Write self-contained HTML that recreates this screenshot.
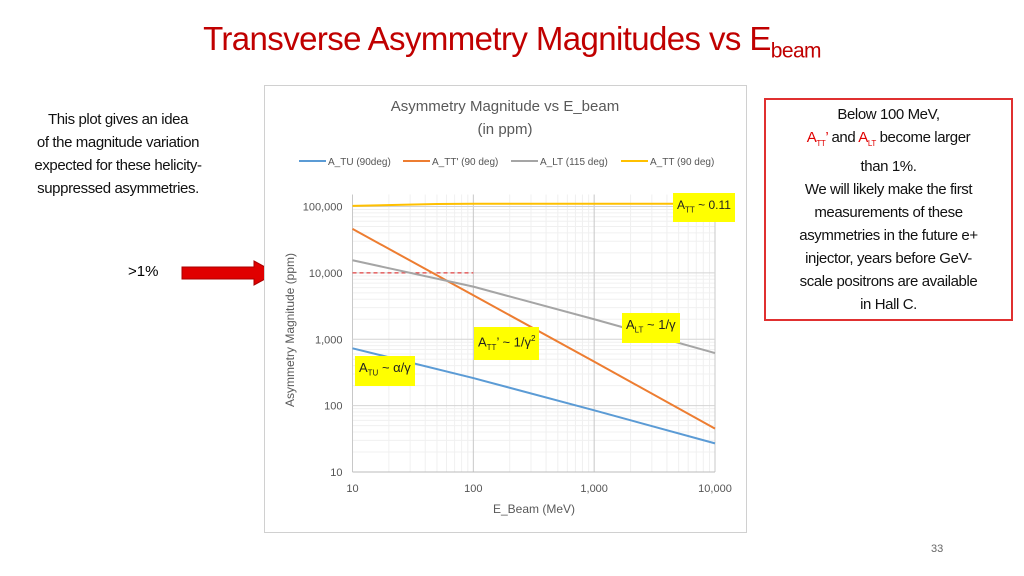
<!DOCTYPE html>
<html><head><meta charset="utf-8"><style>
body{margin:0;width:1024px;height:576px;background:#fff;font-family:"Liberation Sans",sans-serif;position:relative;overflow:hidden}
.abs{position:absolute}
.hl{background:#ffff00;position:absolute;font-size:12px;color:#222;padding:0 4px;line-height:24px}
sub{font-size:8px}
</style></head><body>
<div class="abs" style="left:0;width:1024px;top:20px;text-align:center;font-size:33px;color:#c00000;letter-spacing:-0.6px">Transverse Asymmetry Magnitudes vs E<sub style="font-size:21px">beam</sub></div>
<div class="abs" style="left:4px;top:108px;width:228px;text-align:center;font-size:15px;line-height:23px;color:#111;letter-spacing:-0.4px">This plot gives an idea<br>of the magnitude variation<br>expected for these helicity-<br>suppressed asymmetries.</div>
<div class="abs" style="left:128px;top:263px;font-size:15px">&gt;1%</div>
<svg class="abs" style="left:180px;top:259px" width="100" height="28"><polygon points="2,8 74,8 74,2 96,14 74,26 74,20 2,20" fill="#e00000" stroke="#a00" stroke-width="1"/></svg>
<div class="abs" style="left:764px;top:98px;width:245px;height:216px;border:2px solid #e03030;text-align:center;font-size:15px;line-height:23px;color:#111;padding-top:3px;letter-spacing:-0.4px">Below 100 MeV,<br><span style="color:#e00000">A<sub>TT</sub>’</span> and <span style="color:#e00000">A<sub>LT</sub></span> become larger<br>than 1%.<br>We will likely make the first<br>measurements of these<br>asymmetries in the future e+<br>injector, years before GeV-<br>scale positrons are available<br>in Hall C.</div>
<div class="abs" style="left:931px;top:543px;font-size:11px;color:#666">33</div>
<svg class="abs" id="chart" style="left:264px;top:85px" width="483" height="448"></svg>
<div class="hl" style="left:673px;top:193px">A<sub>TT</sub> ~ 0.11</div>
<div class="hl" style="left:622px;top:313px;font-size:13px">A<sub>LT</sub> ~ 1/γ</div>
<div class="hl" style="left:474px;top:327px;font-size:13px">A<sub>TT</sub>’ ~ 1/γ<sup style="font-size:8px">2</sup></div>
<div class="hl" style="left:355px;top:356px;font-size:13px">A<sub>TU</sub> ~ α/γ</div>
<script>
const energies=[10,100,1000,10000];
const seriesTU=[730,260,85,27];
const seriesTTp=[46000,4600,460,45];
const seriesLT=[15500,6200,2000,620];
const ttEnergies=[10,50,100,10000];
const seriesTT=[102000,109000,110000,110000];
const xTicks=[10,100,1000,10000];
const yTicks=[10,100,1000,10000,100000];
const tickLabels=["10","100","1,000","10,000","100,000"];
const ns="http://www.w3.org/2000/svg";
const svg=document.getElementById('chart');
const L=88.5,R=451,T=121.5,B=387;
const X=v=>L+(Math.log10(v)-1)/3*(R-L);
const Y=v=>B-(Math.log10(v)-1)/4*(B-T);
function mk(t,a,p){const e=document.createElementNS(ns,t);for(const k in a)e.setAttribute(k,a[k]);(p||svg).appendChild(e);return e;}
let e=mk('rect',{x:0.5,y:0.5,width:482,height:447,fill:'#fff',stroke:'#d0d0d0'});

const g=mk('g',{});
for(let d=10;d<10000;d*=10)for(let m=2;m<10;m++)mk('line',{x1:X(d*m),x2:X(d*m),y1:T-12,y2:B,stroke:'#f0f0f0'},g);
for(let d=10;d<100000;d*=10)for(let m=2;m<10;m++)mk('line',{x1:L,x2:R,y1:Y(d*m),y2:Y(d*m),stroke:'#f0f0f0'},g);
xTicks.forEach(v=>mk('line',{x1:X(v),x2:X(v),y1:T-12,y2:B,stroke:'#c8c8c8'},g));
yTicks.forEach(v=>mk('line',{x1:L,x2:R,y1:Y(v),y2:Y(v),stroke:'#d4d4d4'},g));
mk('line',{x1:L,x2:R,y1:B,y2:B,stroke:'#bbb'},g);
xTicks.forEach((v,i)=>{const t=mk('text',{x:X(v),y:B+20,'text-anchor':'middle','font-size':11,fill:'#555'});t.textContent=tickLabels[i];});
yTicks.forEach((v,i)=>{const t=mk('text',{x:L-10,y:Y(v)+4,'text-anchor':'end','font-size':11,fill:'#555'});t.textContent=tickLabels[i];});
e=mk('line',{x1:X(10),x2:X(100),y1:Y(10000),y2:Y(10000),stroke:'#e04040','stroke-width':1.3,'stroke-dasharray':'4,3'});

const series=[[energies,seriesTU,'#5b9bd5','series-atu'],[energies,seriesTTp,'#ed7d31','series-attp'],[energies,seriesLT,'#a5a5a5','series-alt'],[ttEnergies,seriesTT,'#ffc000','series-att']];
series.forEach(([xs,d,c,n])=>{const p=mk('polyline',{points:d.map((v,i)=>X(xs[i])+','+Y(v)).join(' '),fill:'none',stroke:c,'stroke-width':2});});
const legend=[['A_TU (90deg)','#5b9bd5',35],['A_TT\' (90 deg)','#ed7d31',139],['A_LT (115 deg)','#a5a5a5',247],['A_TT (90 deg)','#ffc000',357]];
legend.forEach(([s,c,x])=>{const lg=mk('g',{});mk('line',{x1:x,x2:x+27,y1:76,y2:76,stroke:c,'stroke-width':2},lg);const t=mk('text',{x:x+29,y:80,'font-size':10,fill:'#555'},lg);t.textContent=s;});
let t=mk('text',{x:241,y:26,'text-anchor':'middle','font-size':15,fill:'#595959'});t.textContent='Asymmetry Magnitude vs E_beam';
t=mk('text',{x:241,y:49,'text-anchor':'middle','font-size':15,fill:'#595959'});t.textContent='(in ppm)';
t=mk('text',{x:270,y:428,'text-anchor':'middle','font-size':12,fill:'#595959'});t.textContent='E_Beam (MeV)';
t=mk('text',{x:0,y:0,'text-anchor':'middle','font-size':12,fill:'#595959',transform:'translate(30,245) rotate(-90)'});t.textContent='Asymmetry Magnitude (ppm)';
</script>
</body></html>
